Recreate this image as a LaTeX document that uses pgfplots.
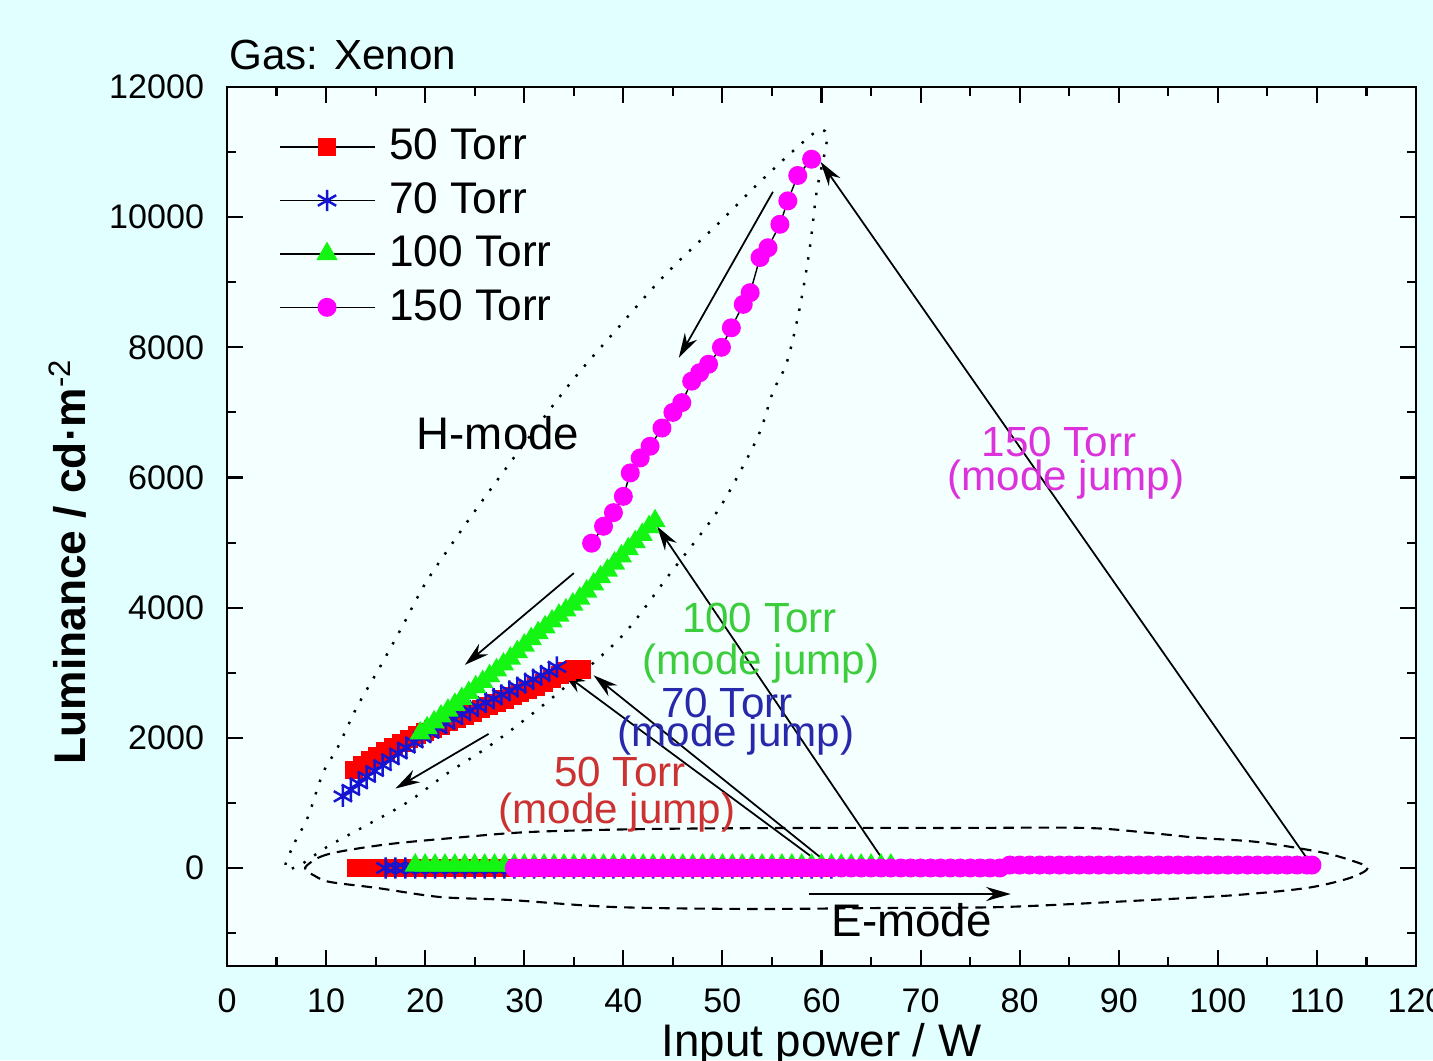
\documentclass[border=0pt]{standalone}
\usepackage{pgfplots}
\pgfplotsset{compat=1.18}
\usepackage{fontspec}
\setmainfont{Liberation Sans}
\usetikzlibrary{arrows.meta}
\definecolor{outerbg}{RGB}{226,255,255}
\definecolor{innerbg}{RGB}{244,255,255}
\definecolor{mred}{RGB}{255,0,0}
\definecolor{mblue}{RGB}{20,20,210}
\definecolor{mgreen}{RGB}{20,245,20}
\definecolor{mmag}{RGB}{255,0,255}
\definecolor{tred}{RGB}{205,50,50}
\definecolor{tblue}{RGB}{40,40,170}
\definecolor{tgreen}{RGB}{60,205,60}
\definecolor{tmag}{RGB}{220,50,220}
\pgfplotsset{
 s50/.style={black, line width=0.4pt, mark=square*, mark size=2.4pt, mark options={solid, draw=mred, fill=mred}},
 s70/.style={black, line width=0.4pt, mark=asterisk, mark size=3pt, mark options={solid, draw=mblue, line width=0.7pt}},
 s100/.style={black, line width=0.4pt, mark=triangle*, mark size=3.1pt, mark options={solid, draw=mgreen, fill=mgreen}},
 s150/.style={black, line width=0.4pt, mark=*, mark size=2.5pt, mark options={solid, draw=mmag, fill=mmag}},
}
\begin{document}
\begin{tikzpicture}
\fill[outerbg] (-2.27cm,-0.944cm) rectangle (12.06cm,9.656cm);
\begin{axis}[
 at={(0,0)}, anchor=south west,
 scale only axis, width=11.89cm, height=8.786cm,
 xmin=0, xmax=120, ymin=-1500, ymax=12000,
 xtick={0,10,...,120}, minor xtick={5,15,...,115},
 ytick={0,2000,...,12000}, minor ytick={-1000,1000,3000,5000,7000,9000,11000},
 xtick pos=both, ytick pos=both,
 tick align=inside, major tick length=4.5pt, minor tick length=2.5pt,
 axis line style={line width=0.6pt},
 every tick/.style={black, line width=0.6pt},
 axis background/.style={fill=innerbg},
 tick label style={font=\fontsize{9.7}{11}\selectfont},
 /pgf/number format/assume math mode=true,
 /pgf/number format/1000 sep={},
 scaled y ticks=false,
 yticklabel style={xshift=-3pt},
 xticklabel style={yshift=-3pt},
 clip=false,
 xlabel={Input power / W},
 ylabel={\textbf{Luminance / cd·m}\textsuperscript{-2}},
 xlabel style={font=\fontsize{13}{15}\selectfont, at={(axis description cs:0.5,-0.065)}, anchor=north, inner sep=0pt},
 ylabel style={font=\fontsize{12.6}{14}\selectfont, at={(axis description cs:-0.134,0.46)}, anchor=center, inner sep=0pt},
 legend style={draw=none, fill=none, at={(axis description cs:0.043,0.961)}, anchor=north west,
   font=\fontsize{12.6}{14}\selectfont, row sep=0.9pt, inner sep=0pt},
 legend cell align=left,
 legend image code/.code={\draw[mark repeat=2, mark phase=2, #1] plot coordinates {(0cm,0cm) (0.475cm,0cm) (0.95cm,0cm)}; \path (1.02cm,0cm);},
]
% ---------- 50 Torr ----------
\addplot[s50] coordinates {(13,0)(14,0)(15,0)(16,0)(17,0)(18,0)(19,0)(20,0)(21,0)(22,0)(23,0)(24,0)(25,0)(26,0)(27,0)(28,0)(29,0)(30,0)(31,0)(32,0)(33,0)(34,0)(35,0)(36,0)(37,0)(38,0)(39,0)(40,0)(41,0)(42,0)(43,0)(44,0)(45,0)(46,0)(47,0)(48,0)(49,0)(50,0)(51,0)(52,0)(53,0)(54,0)(55,0)(56,0)(57,0)(58,0)(59,0)(60,0)};
\addlegendentry{50 Torr}
\addplot[s50, forget plot] coordinates {(12.8,1500)(13.6,1580)(14.4,1650)(15.2,1720)(16.0,1790)(16.8,1860)(17.6,1920)(18.4,1980)(19.2,2040)(20.0,2090)(20.8,2140)(21.6,2190)(22.4,2240)(23.2,2290)(24.0,2340)(24.8,2390)(25.6,2440)(26.4,2490)(27.2,2540)(28.0,2590)(28.8,2640)(29.6,2690)(30.4,2740)(31.2,2790)(32.0,2840)(32.8,2900)(33.6,2960)(34.3,3020)(35.0,3060)(35.8,3050)};
% ---------- 70 Torr ----------
\addplot[s70] coordinates {(16,0)(17,0)(18,0)(19,0)(20,0)(21,0)(22,0)(23,0)(24,0)(25,0)(26,0)(27,0)(28,0)(29,0)(30,0)(31,0)(32,0)(33,0)(34,0)(35,0)(36,0)(37,0)(38,0)(39,0)(40,0)(41,0)(42,0)(43,0)(44,0)(45,0)(46,0)(47,0)(48,0)(49,0)(50,0)(51,0)(52,0)(53,0)(54,0)(55,0)(56,0)(57,0)(58,0)(59,0)(60,0)(61,0)};
\addlegendentry{70 Torr}
\addplot[s70, forget plot] coordinates {(11.7,1100)(12.5,1200)(13.3,1300)(14.1,1400)(14.9,1490)(15.7,1580)(16.5,1670)(17.3,1760)(18.1,1850)(18.9,1930)(19.7,2010)(20.5,2080)(21.3,2150)(22.1,2220)(22.9,2290)(23.7,2360)(24.5,2420)(25.3,2480)(26.1,2540)(26.9,2600)(27.7,2660)(28.5,2720)(29.3,2780)(30.1,2840)(30.9,2900)(31.7,2960)(32.5,3020)(33.3,3090)};
% ---------- 100 Torr ----------
\addplot[s100] coordinates {(19,40)(20,40)(21,40)(22,40)(23,40)(24,40)(25,40)(26,40)(27,40)(28,40)(29,40)(30,40)(31,40)(32,40)(33,40)(34,40)(35,40)(36,40)(37,40)(38,40)(39,40)(40,40)(41,40)(42,40)(43,40)(44,40)(45,40)(46,40)(47,40)(48,40)(49,40)(50,40)(51,40)(52,40)(53,40)(54,40)(55,40)(56,40)(57,40)(58,40)(59,40)(60,40)(61,40)(62,40)(63,40)(64,40)(65,40)(66,40)(67,40)};
\addlegendentry{100 Torr}
\addplot[s100, forget plot] coordinates {(19.5,2070)(20.2,2150)(20.9,2240)(21.6,2330)(22.3,2420)(23.0,2510)(23.7,2600)(24.4,2690)(25.1,2780)(25.8,2860)(26.5,2950)(27.2,3040)(27.9,3130)(28.6,3220)(29.3,3320)(30.0,3420)(30.7,3520)(31.4,3610)(32.1,3700)(32.8,3790)(33.5,3880)(34.2,3960)(34.9,4050)(35.6,4140)(36.3,4250)(37.0,4360)(37.7,4470)(38.4,4570)(39.1,4680)(39.8,4790)(40.5,4900)(41.2,5010)(41.9,5120)(42.6,5240)(43.2,5330)};
% ---------- 150 Torr ----------
\addplot[s150] coordinates {(29,0)(30,0)(31,0)(32,0)(33,0)(34,0)(35,0)(36,0)(37,0)(38,0)(39,0)(40,0)(41,0)(42,0)(43,0)(44,0)(45,0)(46,0)(47,0)(48,0)(49,0)(50,0)(51,0)(52,0)(53,0)(54,0)(55,0)(56,0)(57,0)(58,0)(59,0)(60,0)(61,0)(62,0)(63,0)(64,0)(65,0)(66,0)(67,0)(68,0)(69,0)(70,0)(71,0)(72,0)(73,0)(74,0)(75,0)(76,0)(77,0)(78,0)(79,45)(80,45)(81,45)(82,45)(83,45)(84,45)(85,45)(86,45)(87,45)(88,45)(89,45)(90,45)(91,45)(92,45)(93,45)(94,45)(95,45)(96,45)(97,45)(98,45)(99,45)(100,45)(101,45)(102,45)(103,45)(104,45)(105,45)(106,45)(107,45)(108,45)(109,45)(109.5,45)};
\addlegendentry{150 Torr}
\addplot[s150, forget plot] coordinates {(36.8,4990)(38.0,5250)(39.0,5460)(40.0,5710)(40.7,6070)(41.7,6300)(42.7,6480)(43.9,6760)(45.0,7000)(45.9,7150)(46.9,7480)(47.7,7610)(48.6,7740)(49.9,8000)(50.9,8300)(52.1,8660)(52.8,8840)(53.8,9380)(54.6,9530)(55.8,9890)(56.6,10250)(57.6,10640)(59.0,10890)};
% ---------- envelopes ----------
\draw[black, line width=0.7pt, dash pattern=on 0.7pt off 3pt]
 plot[smooth cycle, tension=0.55] coordinates {(5.85,0)(6.86,400)(8.17,784)(9.69,1460)(11.2,1859)(13.12,2474)(15.44,3089)(17.66,3703)(19.98,4364)(22.7,4979)(25.53,5593)(30.2,6560)(34.91,7499)(39.46,8298)(44.2,9112)(49.75,9927)(53.78,10541)(57.82,11110)(59.84,11340)(60.54,11187)(59.54,10418)(58.83,9542)(57.82,8620)(56.51,7775)(55.1,7314)(53.78,6700)(51.77,6085)(49.24,5424)(44.6,4500)(39.96,3580)(34.61,2843)(30.27,2305)(26.34,1859)(22.3,1460)(18.26,1014)(14.13,661)(10.09,323)(7.37,46)};
\draw[black, line width=0.6pt, dash pattern=on 3pt off 2pt]
 plot[smooth cycle, tension=0.5] coordinates {(7.87,0)(9.38,169)(11.71,261)(16.45,369)(22.81,461)(30.58,553)(42.68,599)(57.82,615)(72.96,615)(86.68,615)(93.14,538)(98.18,461)(103.94,400)(110.29,246)(113.32,123)(115.14,0)(113.32,-154)(108.98,-307)(101.92,-415)(93.14,-492)(78.51,-599)(66.1,-615)(52.47,-630)(38.95,-599)(28.56,-492)(21.49,-446)(15.14,-307)(10.39,-215)(8.88,-123)};
% ---------- arrows ----------
\draw[-{Stealth[length=7pt,width=4pt]}, line width=0.5pt] (109.6,15) -- (59.9,10850);
\draw[-{Stealth[length=7pt,width=4pt]}, line width=0.5pt] (66.4,80) -- (43.4,5250);
\draw[-{Stealth[length=7pt,width=4pt]}, line width=0.5pt] (60.0,150) -- (37.0,2960);
\draw[-{Stealth[length=7pt,width=4pt]}, line width=0.5pt] (59.2,150) -- (33.8,3010);
\draw[-{Stealth[length=7pt,width=4pt]}, line width=0.5pt] (55.1,10390) -- (45.6,7840);
\draw[-{Stealth[length=7pt,width=4pt]}, line width=0.5pt] (35.0,4530) -- (24.0,3120);
\draw[-{Stealth[length=7pt,width=4pt]}, line width=0.5pt] (26.4,2060) -- (17.0,1220);
\draw[-{Stealth[length=7pt,width=4pt]}, line width=0.5pt] (58.7,-400) -- (79.1,-400);
% ---------- texts ----------
\node[anchor=base, text=tmag, font=\fontsize{12}{14}\selectfont] at (83.96,6315) {150 Torr};
\node[anchor=base, text=tmag, font=\fontsize{12}{14}\selectfont] at (84.66,5793) {(mode jump)};
\node[anchor=base, text=tgreen, font=\fontsize{12}{14}\selectfont] at (53.73,3611) {100 Torr};
\node[anchor=base, text=tgreen, font=\fontsize{12}{14}\selectfont] at (53.89,2966) {(mode jump)};
\node[anchor=base, text=tblue, font=\fontsize{12}{14}\selectfont] at (50.45,2305) {70 Torr};
\node[anchor=base, text=tblue, font=\fontsize{12}{14}\selectfont] at (51.36,1859) {(mode jump)};
\node[anchor=base, text=tred, font=\fontsize{12}{14}\selectfont] at (39.66,1245) {50 Torr};
\node[anchor=base, text=tred, font=\fontsize{12}{14}\selectfont] at (39.35,691) {(mode jump)};
\node[anchor=base, font=\fontsize{13}{15}\selectfont] at (27.35,6423) {H-mode};
\node[anchor=base, font=\fontsize{13}{15}\selectfont] at (69.1,-1060) {E-mode};
\node[anchor=base, font=\fontsize{12}{14}\selectfont] at (11.7,12262) {Gas: Xenon};
\end{axis}
\pgfresetboundingbox
\path[use as bounding box] (-2.27cm,-0.944cm) rectangle (12.06cm,9.656cm);
\end{tikzpicture}
\end{document}
